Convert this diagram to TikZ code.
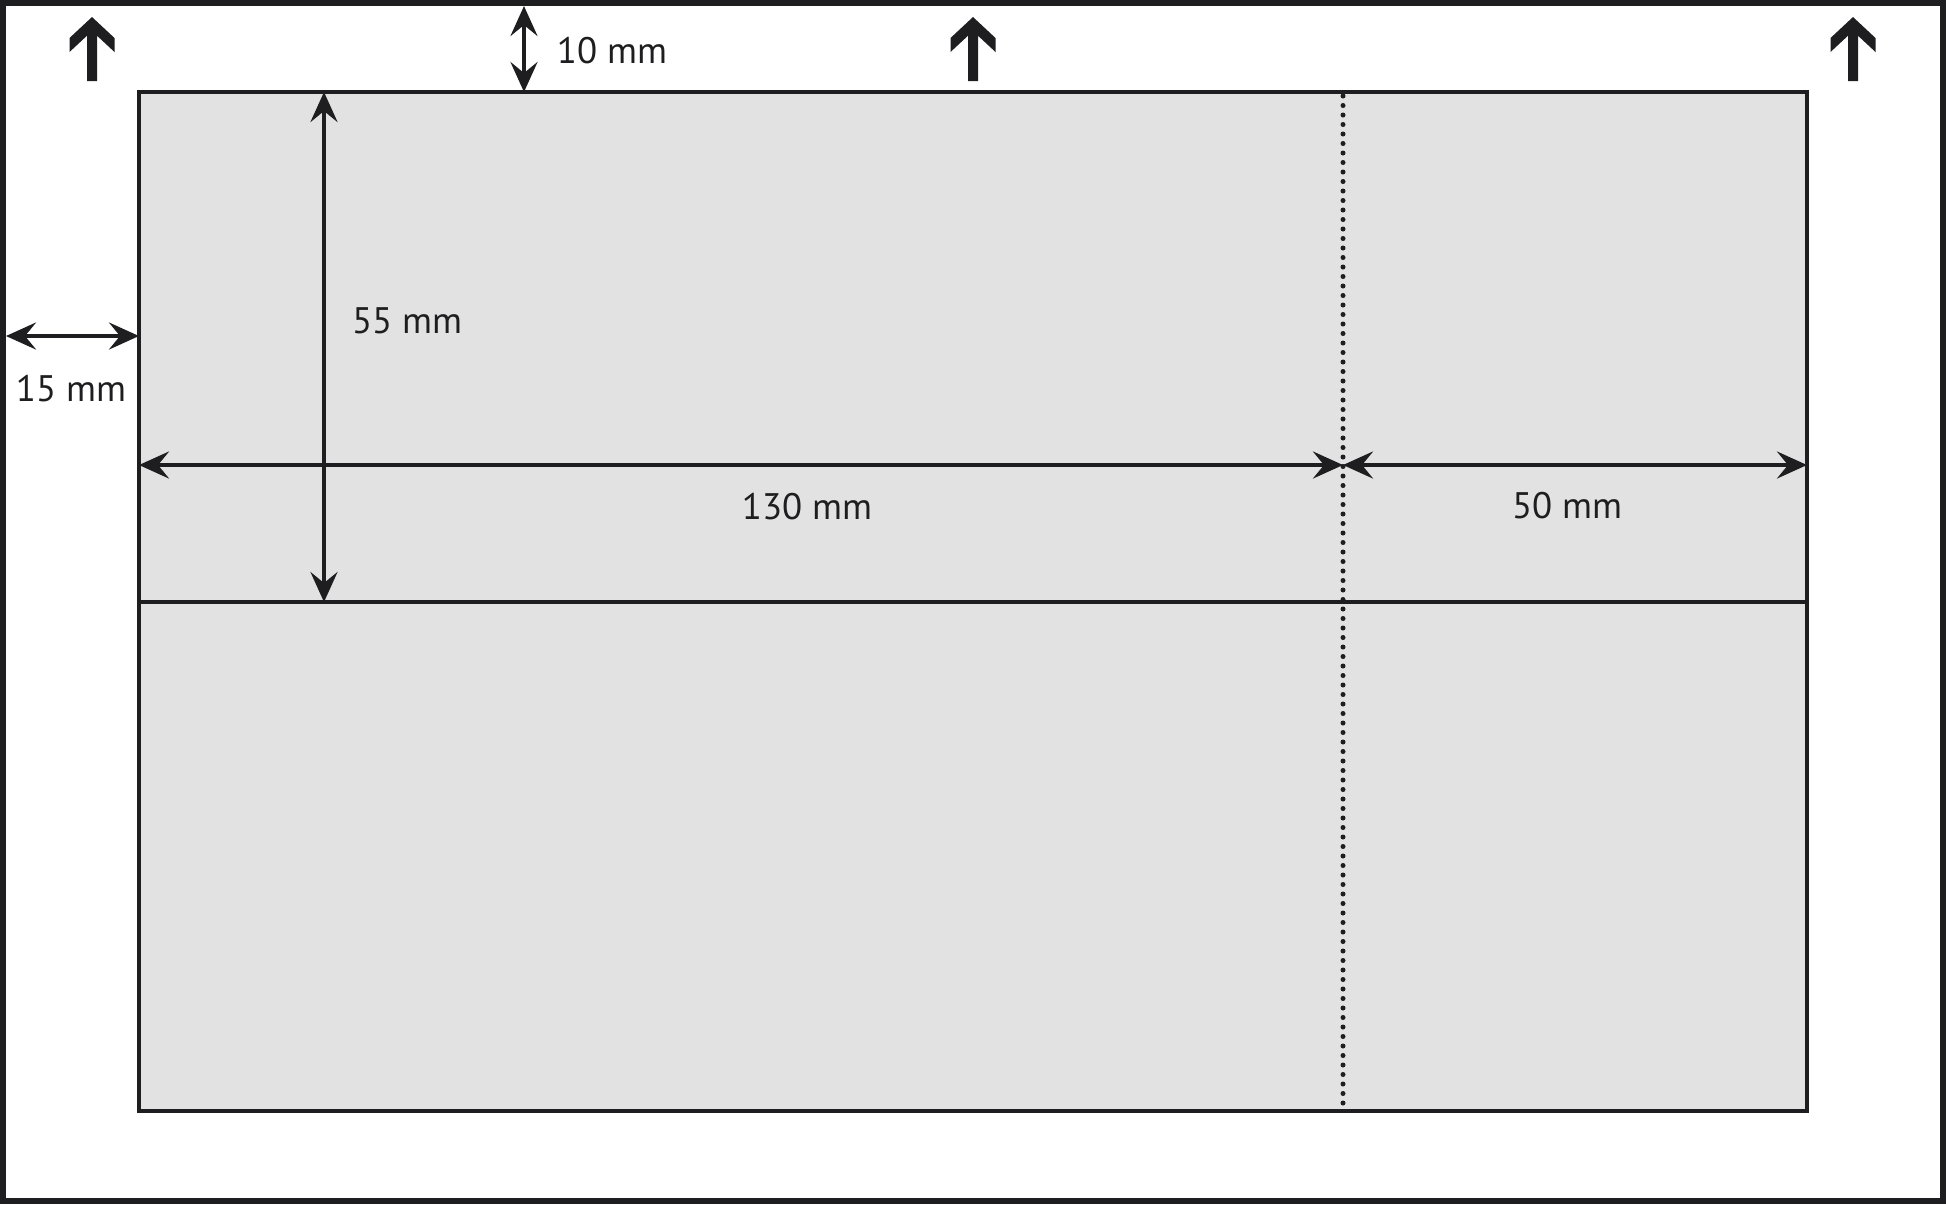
\documentclass[tikz,border=0pt]{standalone}
\usepackage{fontspec}
\setmainfont{PT Sans}
\usetikzlibrary{arrows.meta, positioning}
\definecolor{inkgray}{RGB}{30,30,32}
\definecolor{cardgray}{RGB}{226,226,226}
\tikzset{
x=0.1mm, y=-0.1mm, % one unit is one pixel of the layout, y grows downwards
>={Stealth[length=3mm, width=2.7mm, inset=1.1mm]}, % makes the arrow heads bold
dim/.style={<->, draw=inkgray, line width=0.4mm}, % dimension arrows
edge/.style={draw=inkgray, line width=0.4mm}, % outline of the card
fold/.style={draw=inkgray, line width=0.5mm, line cap=round, dash pattern=on 0pt off 0.95mm}, % dotted fold
lbl/.style={font=\fontsize{10.5}{12}\selectfont, text=inkgray, inner sep=0pt}, % the mm labels
upmark/.style={fill=inkgray}, % the up arrows on top
}

\begin{document}
\begin{tikzpicture}
      \useasboundingbox (0,0) rectangle (1946,1204);
      \draw[draw=inkgray, line width=0.6mm] (3,3) rectangle (1943,1201);

      \coordinate (tl) at (139,92);
      \coordinate (br) at (1807,1111);
      \coordinate (ml) at (139,602);
      \coordinate (mr) at (1807,602);
      \coordinate (ft) at (1343,96);
      \coordinate (fb) at (1343,1108);
      \fill[cardgray] (tl) rectangle (br);
      \draw[fold] (ft) -- (fb);
      \draw[edge] (tl) rectangle (br);
      \draw[edge] (ml) -- (mr);

      \foreach \x in {92, 973, 1853}
        \fill[upmark, shift={(\x,0)}] (0,17) -- (22.5,38) -- (22.5,52) -- (5,35.7) -- (5,81)
          -- (-5,81) -- (-5,35.7) -- (-22.5,52) -- (-22.5,38) -- cycle;

      \coordinate (t10) at (524,6);
      \coordinate (b10) at (524,92);
      \coordinate (l15) at (6,336);
      \coordinate (r15) at (139,336);
      \coordinate (t55) at (324,92);
      \coordinate (b55) at (324,602);
      \coordinate (l130) at (139,465);
      \coordinate (r130) at (1343,465);
      \coordinate (r50) at (1807,465);

      \node[lbl] (10) at (612,51) {10 mm};
      \node[lbl] (15) at (71,389) {15 mm};
      \node[lbl] (55) at (407,321) {55 mm};
      \node[lbl] (130) at (807,507) {130 mm};
      \node[lbl] (50) at (1567,506) {50 mm};

      \draw[dim] (t10) -- (b10);
      \draw[dim] (l15) -- (r15);
      \draw[dim] (t55) -- (b55);
      \draw[dim] (l130) -- (r130);
      \draw[dim] (r130) -- (r50);
    \end{tikzpicture}
\end{document}
